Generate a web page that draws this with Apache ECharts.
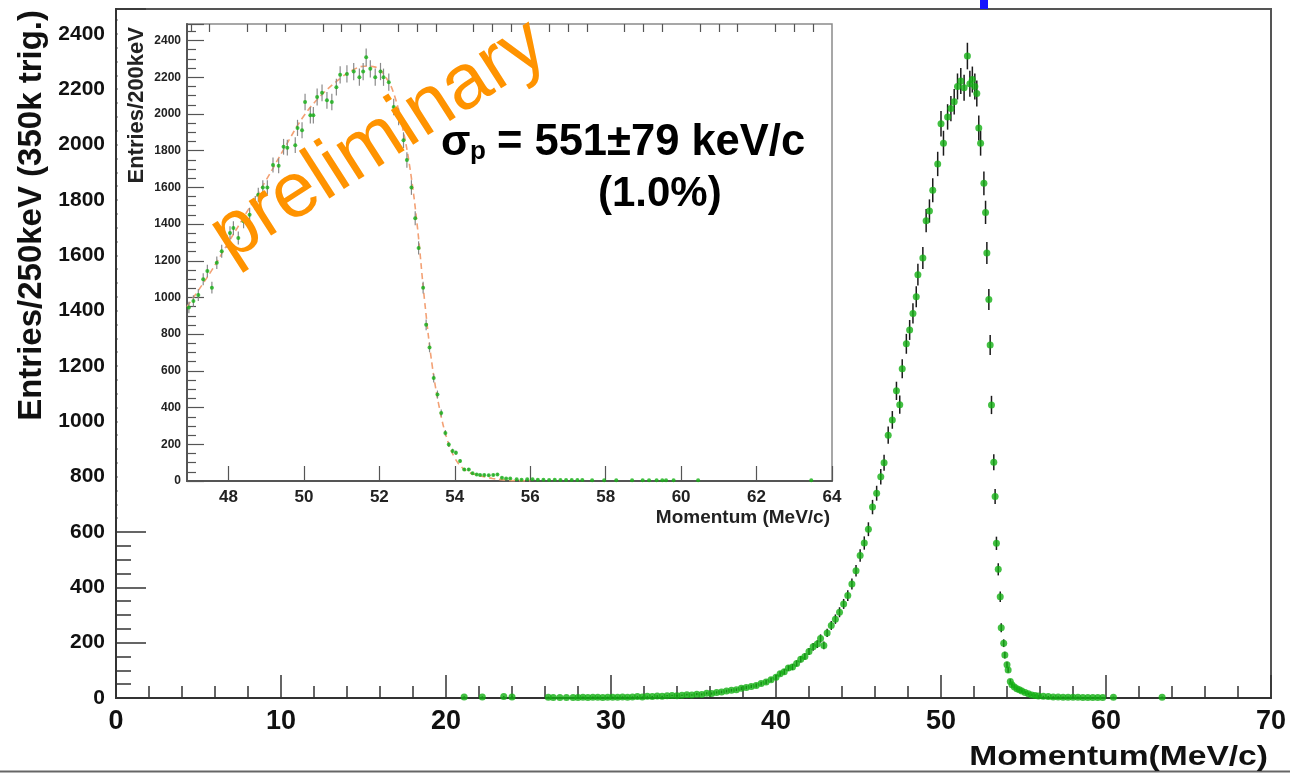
<!DOCTYPE html>
<html>
<head>
<meta charset="utf-8">
<script src="https://cdn.jsdelivr.net/npm/echarts@6/dist/echarts.min.js"></script>
<style>
html, body { margin: 0; padding: 0; background: #fff; }
#chart { width: 1290px; height: 773px; }
</style>
</head>
<body>
<div id="chart"></div>
<script>
// main histogram, Entries/250keV
var mainMomentum = [21.1, 22.2, 23.5, 24.0, 26.2, 26.5, 26.9, 27.3, 27.7, 28.0,
	28.3, 28.6, 28.9, 29.2, 29.5, 29.8, 30.1, 30.4, 30.7, 31.0,
	31.3, 31.6, 31.9, 32.2, 32.5, 32.8, 33.1, 33.4, 33.7, 34.0,
	34.3, 34.6, 34.9, 35.2, 35.5, 35.8, 36.1, 36.4, 36.7, 37.0,
	37.3, 37.6, 37.9, 38.2, 38.5, 38.8, 39.1, 39.4, 39.7, 40.0,
	40.25, 40.5, 40.75, 41.0, 41.25, 41.5, 41.75, 42.0, 42.25, 42.5,
	42.7, 42.9, 43.1, 43.35, 43.6, 43.85, 44.1, 44.35, 44.6, 44.85,
	45.1, 45.35, 45.6, 45.85, 46.1, 46.35, 46.55, 46.8, 47.05, 47.3,
	47.5, 47.65, 47.9, 48.1, 48.3, 48.5, 48.6, 48.9, 49.1, 49.3,
	49.5, 49.8, 50.0, 50.15, 50.4, 50.6, 50.8, 51.0, 51.2, 51.4,
	51.6, 51.75, 51.9, 52.05, 52.17, 52.29, 52.4, 52.6, 52.7, 52.78,
	52.9, 52.98, 53.06, 53.2, 53.28, 53.36, 53.47, 53.59, 53.65, 53.8,
	53.87, 54.0, 54.07, 54.2, 54.3, 54.45, 54.6, 54.75, 54.9, 55.1,
	55.3, 55.5, 55.7, 55.9, 56.2, 56.5, 56.8, 57.1, 57.4, 57.7,
	58.0, 58.3, 58.6, 58.9, 59.2, 59.5, 59.8, 60.45, 63.4];
var mainEntries = [4, 4, 5, 4, 3, 2, 2, 2, 2, 2,
	3, 2, 3, 3, 2, 3, 3, 3, 4, 3,
	4, 5, 4, 6, 5, 7, 6, 8, 9, 8,
	10, 12, 11, 14, 13, 17, 16, 20, 22, 25,
	28, 30, 35, 38, 42, 45, 52, 58, 66, 75,
	88, 95, 108, 112, 125, 140, 150, 168, 185, 195,
	215, 190, 235, 262, 285, 310, 340, 370, 412, 460,
	515, 560, 610, 690, 740, 800, 850, 950, 1005, 1110,
	1060, 1190, 1280, 1330, 1390, 1450, 1530, 1590, 1725, 1760,
	1835, 1930, 2075, 2005, 2100, 2130, 2155, 2210, 2230, 2205,
	2320, 2220, 2235, 2210, 2185, 2060, 2005, 1860, 1755, 1608,
	1440, 1276, 1059, 852, 728, 559, 465, 366, 254, 198,
	155, 120, 101, 60, 48, 40, 33, 30, 25, 20,
	15, 11, 9, 7, 6, 5, 4, 4, 3, 3,
	3, 3, 2, 2, 2, 2, 2, 3, 3];
var mainErrors = [2, 2, 2, 2, 2, 1, 1, 1, 1, 1,
	2, 1, 2, 2, 1, 2, 2, 2, 2, 2,
	2, 2, 2, 2, 2, 3, 2, 3, 3, 3,
	3, 3, 3, 4, 4, 4, 4, 4, 5, 5,
	5, 5, 6, 6, 6, 7, 7, 8, 8, 9,
	9, 10, 10, 11, 11, 12, 12, 13, 14, 14,
	15, 14, 15, 16, 17, 18, 18, 19, 20, 21,
	23, 24, 25, 26, 27, 28, 29, 31, 32, 33,
	33, 34, 36, 36, 37, 38, 39, 40, 42, 42,
	43, 44, 46, 45, 46, 46, 46, 47, 47, 47,
	48, 47, 47, 47, 47, 45, 45, 43, 42, 40,
	38, 36, 33, 29, 27, 24, 22, 19, 16, 14,
	12, 11, 10, 8, 7, 6, 6, 5, 5, 4,
	4, 3, 3, 3, 2, 2, 2, 2, 2, 2,
	2, 2, 1, 1, 1, 1, 1, 2, 2];

// inset histogram, Entries/200keV
var insetMomentum = [46.95, 47.07, 47.2, 47.33, 47.44, 47.56, 47.69, 47.82, 47.96, 48.04,
	48.13, 48.26, 48.4, 48.56, 48.71, 48.79, 48.91, 49.03, 49.18, 49.33,
	49.46, 49.56, 49.77, 49.83, 49.95, 50.03, 50.17, 50.25, 50.35, 50.48,
	50.61, 50.74, 50.86, 50.96, 51.14, 51.32, 51.47, 51.57, 51.65, 51.76,
	51.89, 52.03, 52.11, 52.25, 52.38, 52.51, 52.64, 52.73, 52.85, 52.95,
	53.04, 53.16, 53.24, 53.33, 53.44, 53.54, 53.64, 53.75, 53.84, 53.94,
	54.03, 54.14, 54.25, 54.37, 54.47, 54.58, 54.67, 54.78, 54.9, 55.02,
	55.13, 55.25, 55.36, 55.47, 55.64, 55.77, 55.92, 56.06, 56.2, 56.35,
	56.5, 56.65, 56.8, 56.95, 57.1, 57.25, 57.38, 57.64, 57.96, 58.28,
	58.7, 58.98, 59.15, 59.35, 59.5, 59.6, 59.8, 60.45, 63.45];
var insetEntries = [945, 981, 1013, 1099, 1144, 1053, 1189, 1252, 1306, 1351,
	1378, 1324, 1415, 1451, 1514, 1559, 1599, 1599, 1722, 1718,
	1821, 1816, 1830, 1924, 1911, 2065, 1993, 1993, 2092, 2115,
	2074, 2065, 2146, 2213, 2218, 2231, 2200, 2231, 2309, 2246,
	2200, 2231, 2200, 2173, 2038, 1984, 1857, 1749, 1599, 1432,
	1270, 1053, 851, 728, 561, 471, 371, 262, 199, 163,
	154, 109, 63, 63, 42, 36, 33, 33, 31, 33,
	36, 18, 14, 14, 9, 7, 9, 9, 7, 7,
	6, 7, 6, 5, 6, 5, 5, 4, 4, 4,
	4, 4, 4, 4, 4, 4, 4, 4, 4];
var insetErrors = [31, 31, 32, 33, 34, 32, 34, 35, 36, 37,
	37, 36, 38, 38, 39, 39, 40, 40, 41, 41,
	43, 43, 43, 44, 44, 45, 45, 45, 46, 46,
	46, 45, 46, 47, 47, 47, 47, 47, 48, 47,
	47, 47, 47, 47, 45, 45, 43, 42, 40, 38,
	36, 32, 29, 27, 24, 22, 19, 16, 14, 13,
	12, 10, 8, 8, 6, 6, 6, 6, 6, 6,
	6, 4, 4, 4, 3, 3, 3, 3, 3, 3,
	2, 3, 2, 2, 2, 2, 2, 2, 2, 2,
	2, 2, 2, 2, 2, 2, 2, 2, 2];

// fitted curve in the inset (dashed)
var fitMomentum = [46.9, 47.5, 48.0, 48.5, 49.0, 49.5, 50.0, 50.5, 51.0, 51.3,
	51.6, 51.9, 52.2, 52.4, 52.6, 52.8, 53.0, 53.2, 53.4, 53.6,
	53.8, 54.0, 54.2, 54.4, 54.6, 54.8, 55.0, 55.3, 55.6, 56.0];
var fitValues = [950, 1130, 1300, 1470, 1640, 1820, 1990, 2110, 2200, 2240,
	2260, 2255, 2190, 2100, 1940, 1720, 1400, 980, 630, 390,
	225, 125, 72, 45, 32, 22, 14, 6, 2, 0];

var insetXTicks = [48, 50, 52, 54, 56, 58, 60, 62, 64];
var insetXMinorTicks = [47, 47.5, 48.5, 49, 49.5, 50.5, 51, 51.5, 52.5, 53, 53.5, 54.5, 55, 55.5,
	56.5, 57, 57.5, 58.5, 59, 59.5, 60.5, 61, 61.5, 62.5, 63, 63.5];

var FONT = 'Liberation Sans, Arial, Helvetica, sans-serif';
var GREEN = '#14b014';

function zip3(xs, ys, es) {
	var out = [];
	for (var i = 0; i < xs.length; i++) {
		out.push([xs[i], ys[i], es[i]]);
	}
	return out;
}

function errorBar(color, width) {
	return function(params, api) {
		var x = api.value(0), y = api.value(1), e = api.value(2);
		var top = api.coord([x, y + e]);
		var bot = api.coord([x, Math.max(y - e, 0)]);
		return {
			type: 'line',
			shape: { x1: top[0], y1: top[1], x2: bot[0], y2: bot[1] },
			style: { stroke: color, lineWidth: width }
		};
	};
}

var chart = echarts.init(document.getElementById('chart'));

var option = {
	animation: false,
	backgroundColor: '#fff',
	grid: [
		{ left: 116, right: 19, top: 9, bottom: 75, show: true, borderColor: '#555', borderWidth: 2, outerBoundsMode: 'none' },
		{ left: 187, right: 458, top: 24, bottom: 292, show: true, borderColor: '#8a8a8a', borderWidth: 1.5, z: 3, outerBoundsMode: 'none' }
	],
	xAxis: [
		{ // main
			type: 'value', gridIndex: 0, min: 0, max: 70, interval: 10,
			axisLine: { lineStyle: { color: '#333', width: 2 } },
			axisTick: { inside: true, length: 23, lineStyle: { color: '#333', width: 1.5 } },
			minorTick: { show: true, splitNumber: 5, length: 12, lineStyle: { color: '#333', width: 1.5 } },
			axisLabel: { fontFamily: FONT, fontWeight: 'bold', fontSize: 27, color: '#111', margin: 10 },
			splitLine: { show: false }
		},
		{ // inset, major ticks and labels
			type: 'value', gridIndex: 1, min: 46.9, max: 64, z: 4,
			axisLine: { lineStyle: { color: '#555', width: 2 } },
			axisTick: { inside: true, length: 15, customValues: insetXTicks, lineStyle: { color: '#555', width: 1.2 } },
			axisLabel: { customValues: insetXTicks, fontFamily: FONT, fontWeight: 'bold', fontSize: 17, color: '#222', margin: 8 },
			splitLine: { show: false }
		},
		{ // inset, minor ticks only
			type: 'value', gridIndex: 1, min: 46.9, max: 64, z: 4,
			axisLine: { show: false },
			axisTick: { inside: true, length: 8, customValues: insetXMinorTicks, lineStyle: { color: '#555', width: 1.2 } },
			axisLabel: { show: false },
			splitLine: { show: false }
		}
	],
	yAxis: [
		{ // main
			type: 'value', gridIndex: 0, min: 0, max: 2490, interval: 200,
			axisLine: { show: true, lineStyle: { color: '#333', width: 2 } },
			axisTick: { show: true, inside: true, length: 30, lineStyle: { color: '#333', width: 1.5 } },
			minorTick: { show: true, splitNumber: 4, length: 15, lineStyle: { color: '#333', width: 1.5 } },
			axisLabel: {
				fontFamily: FONT, fontWeight: 'bold', fontSize: 21, color: '#111', margin: 11,
				showMaxLabel: false,
				formatter: function(v) { return v % 200 === 0 ? String(v) : ''; }
			},
			splitLine: { show: false }
		},
		{ // inset
			type: 'value', gridIndex: 1, min: 0, max: 2490, interval: 200, z: 4,
			axisLine: { show: true, lineStyle: { color: '#555', width: 2 } },
			axisTick: { show: true, inside: true, length: 17, lineStyle: { color: '#555', width: 1.2 } },
			minorTick: { show: true, splitNumber: 4, length: 9, lineStyle: { color: '#555', width: 1.2 } },
			axisLabel: {
				fontFamily: FONT, fontWeight: 'bold', fontSize: 12, color: '#222', margin: 6,
				showMaxLabel: false,
				formatter: function(v) { return v % 200 === 0 ? String(v) : ''; }
			},
			splitLine: { show: false }
		}
	],
	series: [
		{
			name: 'main errors', type: 'custom', xAxisIndex: 0, yAxisIndex: 0, z: 3, clip: true,
			renderItem: errorBar('#1a1a1a', 1.5),
			data: zip3(mainMomentum, mainEntries, mainErrors)
		},
		{
			name: 'main', type: 'scatter', xAxisIndex: 0, yAxisIndex: 0, z: 4,
			symbol: 'circle', symbolSize: 7, itemStyle: { color: GREEN },
			data: mainMomentum.map(function(x, i) { return [x, mainEntries[i]]; })
		},
		{
			name: 'fit', type: 'line', xAxisIndex: 1, yAxisIndex: 1, z: 5,
			smooth: 0.4, showSymbol: false, symbol: 'none',
			lineStyle: { color: '#f3a175', width: 1.6, type: [6, 4] },
			data: fitMomentum.map(function(x, i) { return [x, fitValues[i]]; })
		},
		{
			name: 'inset errors', type: 'custom', xAxisIndex: 1, yAxisIndex: 1, z: 6, clip: true,
			renderItem: errorBar('#8a8a8a', 1.2),
			data: zip3(insetMomentum, insetEntries, insetErrors)
		},
		{
			name: 'inset', type: 'scatter', xAxisIndex: 1, yAxisIndex: 1, z: 7,
			symbol: 'circle', symbolSize: 4, itemStyle: { color: GREEN },
			data: insetMomentum.map(function(x, i) { return [x, insetEntries[i]]; })
		}
	],
	graphic: [
		// inset pad hides the main frame ticks behind it
		{ type: 'rect', z: 1, silent: true, shape: { x: 117.5, y: 10.5, width: 722, height: 516 }, style: { fill: '#fff' } },
		{ type: 'rect', z: 20, silent: true, shape: { x: 980, y: 0, width: 8, height: 9 }, style: { fill: '#1414ff' } },
		{ type: 'line', z: 20, silent: true, shape: { x1: 0, y1: 771.5, x2: 1290, y2: 771.5 }, style: { stroke: '#666', lineWidth: 2 } },
		{ type: 'text', z: 20, x: 32, y: 10, rotation: Math.PI / 2,
			style: { text: 'Entries/250keV (350k trig.)', font: 'bold 33px ' + FONT, fill: '#111', align: 'right', verticalAlign: 'middle' } },
		{ type: 'text', z: 20, x: 1268, y: 771, scaleX: 1.2,
			style: { text: 'Momentum(MeV/c)', font: 'bold 28px ' + FONT, fill: '#111', align: 'right', verticalAlign: 'bottom' } },
		{ type: 'text', z: 20, x: 137, y: 27, rotation: Math.PI / 2,
			style: { text: 'Entries/200keV', font: 'bold 22px ' + FONT, fill: '#222', align: 'right', verticalAlign: 'middle' } },
		{ type: 'text', z: 20, x: 830, y: 508,
			style: { text: 'Momentum (MeV/c)', font: 'bold 19px ' + FONT, fill: '#222', align: 'right', verticalAlign: 'top' } },
		{ type: 'text', z: 20, x: 441, y: 143,
			style: { text: 'σ', font: 'bold 43px ' + FONT, fill: '#000', align: 'left', verticalAlign: 'middle' } },
		{ type: 'text', z: 20, x: 470, y: 152,
			style: { text: 'p', font: 'bold 26px ' + FONT, fill: '#000', align: 'left', verticalAlign: 'middle' } },
		{ type: 'text', z: 20, x: 497, y: 143,
			style: { text: '= 551±79 keV/c', font: 'bold 43.5px ' + FONT, fill: '#000', align: 'left', verticalAlign: 'middle' } },
		{ type: 'text', z: 20, x: 598, y: 194,
			style: { text: '(1.0%)', font: 'bold 42px ' + FONT, fill: '#000', align: 'left', verticalAlign: 'middle' } },
		{ type: 'text', z: 21, x: 379, y: 141, rotation: 0.57,
			style: { text: 'preliminary', font: '78px ' + FONT, fill: '#ff9300', align: 'center', verticalAlign: 'middle' } }
	]
};

chart.setOption(option);
</script>
</body>
</html>
